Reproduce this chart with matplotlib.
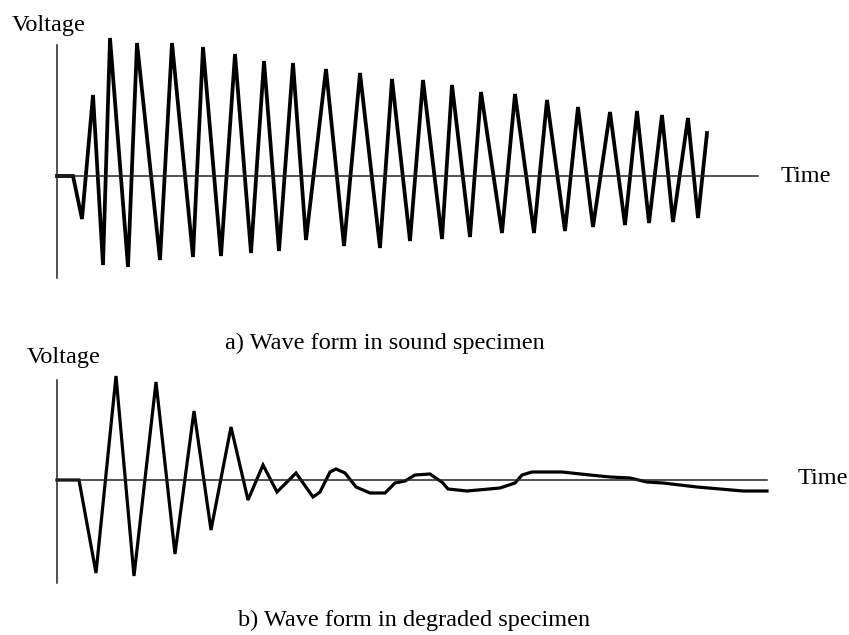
import matplotlib
matplotlib.use("Agg")
import matplotlib.pyplot as plt

# a) sound specimen: vertices of the ringing wave (time, voltage)
sound_t = [0.0, 1.6, 2.5, 3.6, 4.6, 5.3, 7.1, 8.0, 10.3, 11.5, 13.6, 14.6, 16.4,
           17.8, 19.4, 20.7, 22.2, 23.6, 24.9, 26.9, 28.7, 30.3, 32.3, 33.5,
           35.3, 36.6, 38.5, 39.5, 41.3, 42.4, 44.5, 45.8, 47.7, 49.0, 50.8,
           52.1, 53.6, 55.3, 56.8, 58.0, 59.2, 60.5, 61.6, 63.1, 64.1, 65.0]
sound_v = [0.0, 0.0, -0.43, 0.81, -0.89, 1.38, -0.91, 1.33, -0.84, 1.33, -0.81,
           1.29, -0.80, 1.22, -0.77, 1.15, -0.75, 1.13, -0.64, 1.07, -0.70,
           1.03, -0.72, 0.97, -0.65, 0.96, -0.63, 0.91, -0.61, 0.84, -0.57,
           0.82, -0.57, 0.76, -0.55, 0.69, -0.51, 0.64, -0.49, 0.65, -0.47,
           0.61, -0.46, 0.58, -0.42, 0.43]

# b) degraded specimen
degr_t = [0.0, 2.2, 3.9, 5.9, 7.7, 9.9, 11.8, 13.7, 15.4, 17.4, 19.1, 20.6,
          22.0, 23.9, 25.6, 26.3, 27.3, 27.9, 28.8, 29.9, 31.3, 32.8, 33.8,
          34.8, 35.8, 37.3, 38.6, 39.1, 41.0, 44.3, 45.8, 46.5, 47.5, 50.5,
          53.3, 55.3, 57.3, 59.0, 60.6, 62.3, 64.0, 66.3, 68.6, 71.0]
degr_v = [0.0, 0.0, -0.93, 1.04, -0.96, 0.98, -0.74, 0.69, -0.50, 0.53, -0.20,
          0.15, -0.12, 0.07, -0.17, -0.12, 0.08, 0.11, 0.07, -0.07, -0.13,
          -0.13, -0.03, -0.01, 0.05, 0.06, -0.03, -0.09, -0.11, -0.08, -0.03,
          0.05, 0.08, 0.08, 0.05, 0.03, 0.02, -0.02, -0.03, -0.05, -0.07,
          -0.09, -0.11, -0.11]

W, H = 849, 635
plt.rcParams['font.family'] = ['Liberation Serif', 'DejaVu Serif']
fig = plt.figure(figsize=(W / 100, H / 100), dpi=100)


def panel(rect, t, v, xmax, ylim, lw):
    ax = fig.add_axes(rect)
    ax.plot(t, v, color='black', lw=lw, solid_joinstyle='miter', clip_on=False)
    ax.set_xlim(0, xmax)
    ax.set_ylim(*ylim)
    for s in ('top', 'right'):
        ax.spines[s].set_visible(False)
    ax.spines['bottom'].set_position(('data', 0))
    for s in ('left', 'bottom'):
        ax.spines[s].set_color('#222222')
        ax.spines[s].set_linewidth(1.1)
    ax.set_xticks([])
    ax.set_yticks([])
    ax.patch.set_visible(False)
    return ax


panel([57 / W, 1 - 278 / H, 701 / W, 233 / H], sound_t, sound_v, 70.1, (-1.02, 1.31), 2.7)
panel([57 / W, 1 - 583 / H, 710 / W, 203 / H], degr_t, degr_v, 71.0, (-1.03, 1.00), 2.3)

fs = 17.5
fig.text(12 / W, 1 - 25 / H, 'Voltage', fontsize=fs, va='center')
fig.text(781 / W, 1 - 176 / H, 'Time', fontsize=fs, va='center')
fig.text(385 / W, 1 - 343 / H, 'a) Wave form in sound specimen', fontsize=fs,
         ha='center', va='center')
fig.text(27 / W, 1 - 358 / H, 'Voltage', fontsize=fs, va='center')
fig.text(798 / W, 1 - 478 / H, 'Time', fontsize=fs, va='center')
fig.text(414 / W, 1 - 620 / H, 'b) Wave form in degraded specimen', fontsize=fs,
         ha='center', va='center')

fig.savefig('out.png', dpi=100)
